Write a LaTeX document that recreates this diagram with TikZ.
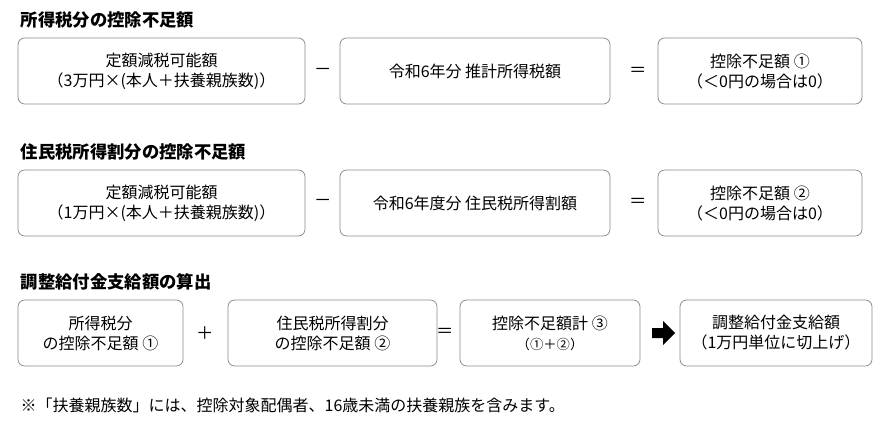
\documentclass[tikz,border=0pt]{standalone}
\usepackage{fontspec}
\setmainfont{Noto Sans CJK JP}
\begin{document}
\begin{tikzpicture}[x=0.75pt,y=-0.75pt,
  box/.style={draw=black!45,rounded corners=5pt,line width=0.6pt,align=center,font=\fontsize{12}{15}\selectfont},
  head/.style={anchor=west,font=\fontsize{13}{15}\selectfont\bfseries},
  op/.style={font=\fontsize{13}{14}\selectfont}]
\useasboundingbox (0,0) rectangle (881,421);
\newcommand{\bx}[6]{\node[box,minimum width=#3*0.75pt-#2*0.75pt,minimum height=#5*0.75pt-#4*0.75pt] (#1) at ({(#2+#3)/2},{(#4+#5)/2}) {#6};}
\node[head] (h1) at (16,20) {所得税分の控除不足額};
\bx{a1}{18}{305}{38}{104}{定額減税可能額\\（3万円×(本人＋扶養親族数)）}
\node[op] (m1) at (323,72) {－};
\bx{a2}{340}{610}{38}{104}{令和6年分 推計所得税額}
\node[op] (e1) at (638,72) {＝};
\bx{a3}{658}{862}{38}{104}{控除不足額 ①\\（＜0円の場合は0）}

\node[head] (h2) at (16,152) {住民税所得割分の控除不足額};
\bx{b1}{18}{305}{170}{236}{定額減税可能額\\（1万円×(本人＋扶養親族数)）}
\node[op] (m2) at (323,203) {－};
\bx{b2}{340}{610}{170}{236}{令和6年度分 住民税所得割額}
\node[op] (e2) at (638,203) {＝};
\bx{b3}{658}{862}{170}{236}{控除不足額 ②\\（＜0円の場合は0）}

\node[head] (h3) at (16,282) {調整給付金支給額の算出};
\bx{c1}{18}{183}{300}{366}{所得税分\\の控除不足額 ①}
\node[op] (p3) at (205,333) {＋};
\bx{c2}{228}{437}{300}{366}{住民税所得割分\\の控除不足額 ②}
\bx{c3}{460}{640}{300}{366}{控除不足額計 ③\\{\fontsize{10}{12}\selectfont （①＋②）}}
\node[op] (e3) at (445,333) {＝};
\bx{c4}{680}{872}{300}{366}{調整給付金支給額\\（1万円単位に切上げ）}
\fill (652,328) -- (663,328) -- (663,321) -- (675,333) -- (663,345) -- (663,338) -- (652,338) -- cycle;

\node[anchor=west,font=\fontsize{12}{14}\selectfont] (fn) at (16,405) {※「扶養親族数」には、控除対象配偶者、16歳未満の扶養親族を含みます。};
\end{tikzpicture}
\end{document}
